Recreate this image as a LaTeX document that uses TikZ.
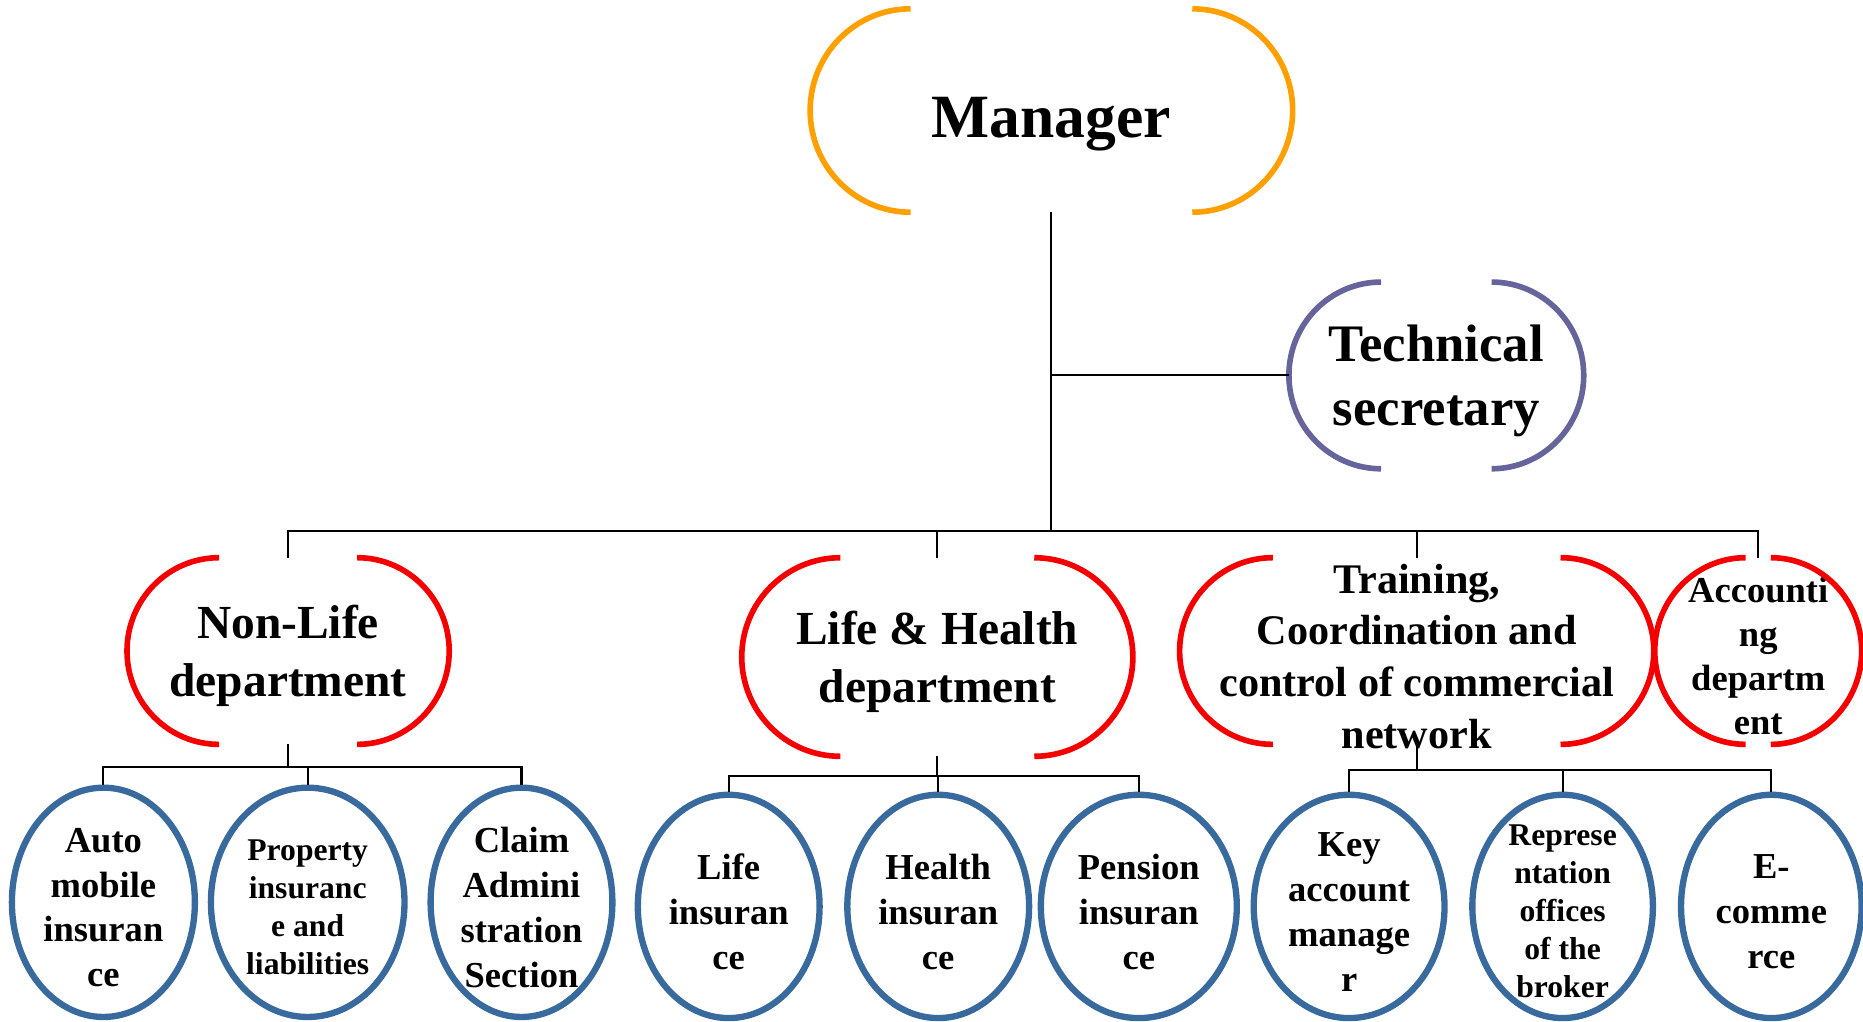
\documentclass[tikz,border=0pt]{standalone}
\usepackage{fontspec}
\setmainfont{Liberation Serif}
\usetikzlibrary{positioning, calc, shapes.geometric}
\definecolor{mgrorange}{HTML}{FF9F00}
\definecolor{secpurple}{HTML}{65649B}
\definecolor{deptred}{HTML}{F50000}
\definecolor{unitblue}{HTML}{386A9D}

% left and right arcs of an open rounded box
\newcommand{\openarcs}[3]{%
  \draw[#2, line width=1.6pt]
    let \p1=($(#1.north)-(#1.center)$) in
    ($(#1.north west)+(#3,0)$) arc[start angle=90, end angle=270, x radius=#3, y radius=\y1]
    ($(#1.south east)+(-#3,0)$) arc[start angle=-90, end angle=90, x radius=#3, y radius=\y1];
}

\begin{document}
\begin{tikzpicture}
    [holder/.style={draw=none, inner sep=0pt, minimum height=1.853cm},
      unit/.style={ellipse, draw=unitblue, line width=1.8pt, inner sep=0pt, minimum height=2.233cm},
      link/.style={line width=0.6pt},
      every label/.style={yshift=-1.5pt},
      bigtxt/.style={align=center, font=\fontsize{10.4}{12.8}\selectfont\bfseries},
      smalltxt/.style={align=center, font=\fontsize{9}{10.8}\selectfont\bfseries},
      depttxt/.style={align=center, font=\fontsize{13.5}{16.5}\selectfont\bfseries}]

    \useasboundingbox (0,0) rectangle (18.63,-10.21);

    % top
    \node[holder, minimum width=4.811cm, minimum height=2.02cm,
      label={[font=\fontsize{17.5}{21}\selectfont\bfseries, yshift=-2.5pt]center:Manager}] (mgr) at (10.514,-1.105) {};
    \openarcs{mgr}{mgrorange}{1.004cm}

    \node[holder, minimum width=2.934cm,
      label={[align=center, font=\fontsize{15}{18.3}\selectfont\bfseries]center:Technical\\secretary}] (sec) at (14.363,-3.754) {};
    \openarcs{sec}{secpurple}{0.921cm}

    % departments
    \node[holder, minimum width=3.208cm,
      label={[depttxt]center:Non-Life\\department}] (nonlife) at (2.881,-6.510) {};
    \openarcs{nonlife}{deptred}{0.921cm}

    \node[holder, minimum width=3.897cm, minimum height=1.972cm,
      label={[depttxt]center:Life \& Health\\department}] (life) at (9.373,-6.570) {};
    \openarcs{life}{deptred}{0.986cm}

    \node[holder, minimum width=4.728cm,
      label={[align=center, font=\fontsize{12}{14.7}\selectfont\bfseries]center:{Training,\\Coordination and\\control of commercial\\network}}] (train) at (14.167,-6.510) {};
    \openarcs{train}{deptred}{0.933cm}

    \node[holder, minimum width=2.055cm,
      label={[align=center, font=\fontsize{10.4}{12.5}\selectfont\bfseries]center:Accounti\\ng\\departm\\ent}] (acct) at (17.582,-6.510) {};
    \openarcs{acct}{deptred}{0.909cm}

    % sections
    \node[unit, minimum width=1.830cm, minimum height=2.293cm,
      label={[bigtxt]center:Auto\\mobile\\insuran\\ce}] (auto) at (1.034,-9.023) {};
    \node[unit, minimum width=1.936cm, minimum height=2.293cm,
      label={[smalltxt]center:Property\\insuranc\\e and\\liabilities}] (prop) at (3.077,-9.023) {};
    \node[unit, minimum width=1.818cm, minimum height=2.293cm,
      label={[bigtxt]center:Claim\\Admini\\stration\\Section}] (claim) at (5.215,-9.023) {};

    \node[unit, minimum width=1.818cm,
      label={[bigtxt]center:Life\\insuran\\ce}] (lifeins) at (7.287,-9.064) {};
    \node[unit, minimum width=1.818cm,
      label={[bigtxt]center:Health\\insuran\\ce}] (health) at (9.382,-9.064) {};
    \node[unit, minimum width=1.960cm,
      label={[bigtxt]center:Pension\\insuran\\ce}] (pension) at (11.388,-9.064) {};

    \node[unit, minimum width=1.908cm,
      label={[bigtxt]center:Key\\account\\manage\\r}] (keyacc) at (13.491,-9.064) {};
    \node[unit, minimum width=1.806cm,
      label={[smalltxt]center:Represe\\ntation\\offices\\of the\\broker}] (repr) at (15.626,-9.064) {};
    \node[unit, minimum width=1.806cm,
      label={[bigtxt]center:E-\\comme\\rce}] (ecom) at (17.713,-9.064) {};

    % connectors
    \coordinate (bus) at (10.514,-5.310);
    \coordinate (nlbus) at (2.881,-7.672);
    \coordinate (lhbus) at (9.373,-7.758);
    \coordinate (trbus) at (14.167,-7.698);

    \draw[link] (mgr.south) -- (bus);
    \draw[link] (sec.west) -- (sec.west -| bus);
    \draw[link] (nonlife.north) |- (bus) -| (acct.north);
    \draw[link] (life.north) -- (life.north |- bus);
    \draw[link] (train.north) -- (train.north |- bus);

    \draw[link] (nonlife.south) -- (nlbus);
    \draw[link] (auto.north) |- (nlbus) -| (claim.north);
    \draw[link] (prop.north) -- (prop.north |- nlbus);

    \draw[link] (life.south) -- (lhbus);
    \draw[link] (lifeins.north) |- (lhbus) -| (pension.north);
    \draw[link] (health.north) -- (health.north |- lhbus);

    \draw[link] (train.south) -- (trbus);
    \draw[link] (keyacc.north) |- (trbus) -| (ecom.north);
    \draw[link] (repr.north) -- (repr.north |- trbus);
  \end{tikzpicture}
\end{document}
